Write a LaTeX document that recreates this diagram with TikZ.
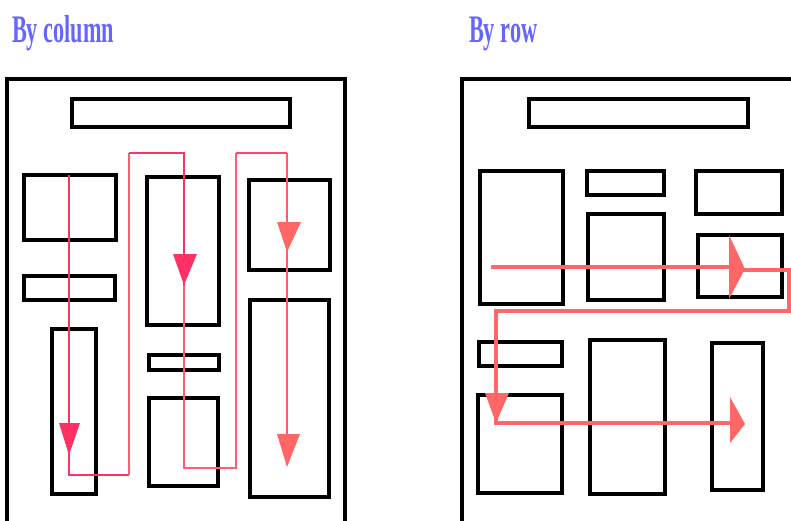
\documentclass[tikz,border=0pt]{standalone}
\usepackage{fontspec}
\newfontfamily\titlefont{Liberation Serif}
\usetikzlibrary{fit}
\definecolor{titleblue}{RGB}{102,102,255}
\definecolor{crim}{RGB}{255,48,100}
\definecolor{pinkmid}{RGB}{255,90,110}
\definecolor{salmon}{RGB}{255,102,102}
\tikzset{
  pbox/.style={draw=black, line width=3.2pt, inner sep=0pt, fill=white},
  frame/.style={draw=black, line width=4.5pt},
  ttl/.style={anchor=base west, inner sep=0pt, xscale=0.57, text=titleblue,
    font=\titlefont\bfseries\fontsize{39}{39}\selectfont},
  flow/.style={line width=2.8pt, line join=miter},
}
\begin{document}
\begin{tikzpicture}[x=1pt,y=-1pt]
\useasboundingbox (0,0) rectangle (791,521);
\fill[white] (0,0) rectangle (791,521);

% titles
\node[ttl] (t1) at (12,43) {By column};
\node[ttl] (t2) at (469,43) {By row};

% frames
\draw[frame] (7,560) -- (7,79) -- (345,79) -- (345,560);
\draw[frame] (462,560) -- (462,79) -- (830,79);

% left panel boxes
\node[pbox, fit={(72,99) (290,127)}] (topL) {};
\node[pbox, fit={(24,175) (116,240)}] (A) {};
\node[pbox, fit={(147,177) (219,325)}] (B) {};
\node[pbox, fit={(249,180) (330,270)}] (C) {};
\node[pbox, fit={(24,276) (115,300)}] (D) {};
\node[pbox, fit={(52,329) (96,494)}] (E) {};
\node[pbox, fit={(149,355) (219,370)}] (F) {};
\node[pbox, fit={(149,398) (218,486)}] (G) {};
\node[pbox, fit={(250,300) (329,497)}] (H) {};

% right panel boxes
\node[pbox, fit={(529,99) (748,127)}] (topR) {};
\node[pbox, fit={(480,171) (563,304)}] (R1) {};
\node[pbox, fit={(587,171) (664,195)}] (R2) {};
\node[pbox, fit={(588,214) (664,300)}] (R3) {};
\node[pbox, fit={(696,171) (782,214)}] (R4) {};
\node[pbox, fit={(698,235) (782,297)}] (R5) {};
\node[pbox, fit={(479,342) (562,366)}] (R6) {};
\node[pbox, fit={(478,395) (562,493)}] (R7) {};
\node[pbox, fit={(590,340) (665,494)}] (R8) {};
\node[pbox, fit={(712,343) (763,490)}] (R9) {};

% left flow path
\coordinate (p0) at (69,175);
\coordinate (p1) at (69,475);
\coordinate (p2) at (129,475);
\coordinate (p3) at (129,153);
\coordinate (p4) at (184,153);
\coordinate (p5) at (184,285);
\coordinate (p6) at (184,468);
\coordinate (p7) at (236,468);
\coordinate (p8) at (236,153);
\coordinate (p9) at (287,153);
\coordinate (p10) at (287,465);
\draw[flow, crim] (p0) -- (p1) -- (p2);
\draw[flow, pinkmid] (p2) -- (p3);
\draw[flow, crim] (p3) -- (p4) -- (p5);
\draw[flow, pinkmid!70!salmon] (p5) -- (p6) -- (p7) -- (p8);
\draw[flow, crim!60!salmon] (p8) -- (p9);
\draw[flow, pinkmid] (p9) -- (p10);
\fill[crim] (59,423) -- (80,423) -- (69,455) -- cycle;
\fill[crim] (173,254) -- (197,254) -- (184,285) -- cycle;
\fill[salmon] (277,222) -- (301,222) -- (287,252) -- cycle;
\fill[salmon] (277,434) -- (300,434) -- (287,467) -- cycle;

% right flow path
\coordinate (q0) at (491,267);
\coordinate (q1) at (731,267);
\coordinate (q2) at (743,270);
\coordinate (q3) at (789,270);
\coordinate (q4) at (789,311);
\coordinate (q5) at (496,311);
\coordinate (q6) at (496,423);
\coordinate (q7) at (740,423);
\draw[flow, salmon, line width=3.2pt] (q0) -- (q1);
\draw[flow, salmon, line width=3.2pt] (q2) -- (q3) -- (q4) -- (q5) -- (q6) -- (q7);
\fill[salmon] (729,235) -- (745,269) -- (729,299) -- cycle;
\fill[salmon] (485,393) -- (509,393) -- (496,423) -- cycle;
\fill[salmon] (730,397) -- (745,424) -- (730,443) -- cycle;
\end{tikzpicture}
\end{document}
